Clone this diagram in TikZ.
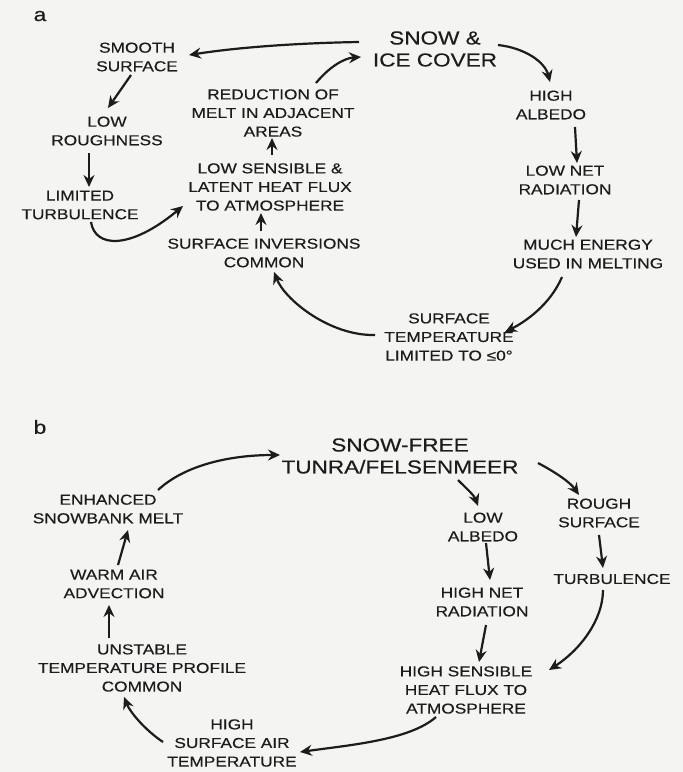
\documentclass[tikz,border=0pt]{standalone}
\usepackage{fontspec}
\setmainfont{Liberation Sans}[FakeStretch=1.2, FakeBold=0.4]
\usepackage{tikz}
\usetikzlibrary{arrows.meta, calc}
\definecolor{paper}{RGB}{244,244,242}
\definecolor{ink}{RGB}{28,28,28}

\begin{document}
\begin{tikzpicture}[x=0.5pt, y=-0.5pt, lbl/.style={text=ink, align=center,
      inner sep=0pt, font=\fontsize{7.2pt}{9.3pt}\selectfont}, big/.style={lbl,
      font=\fontsize{9.4pt}{11pt}\selectfont}, part/.style={text=ink,
      inner sep=0pt, font=\fontsize{9.5pt}{10pt}\selectfont}, flow/.style={ink,
      line width=1.1pt, -{Stealth[length=6pt, width=5.5pt, inset=2pt]}}, ]

    % Paper
    \fill[paper] (0,0) rectangle (683,772);
    \useasboundingbox (0,0) rectangle (683,772);

    % Part a: snow cover
    \node[part] (pa) at (40,16) {a};
    \node[big] (snow) at (435,49) {SNOW \&\\ICE COVER};
    \node[lbl] (smooth) at (137,57) {SMOOTH\\SURFACE};
    \node[lbl] (rough) at (107,131) {LOW\\ROUGHNESS};
    \node[lbl] (limited) at (80,205) {LIMITED\\TURBULENCE};
    \node[lbl] (red) at (273,113) {REDUCTION OF\\MELT IN ADJACENT\\AREAS};
    \node[lbl] (sens) at (270,187) {LOW SENSIBLE \&\\LATENT HEAT FLUX\\TO ATMOSPHERE};
    \node[lbl] (inv) at (264,253) {SURFACE INVERSIONS\\COMMON};
    \node[lbl] (albedo) at (551,105) {HIGH\\ALBEDO};
    \node[lbl] (netrad) at (565,180) {LOW NET\\RADIATION};
    \node[lbl] (energy) at (588,254) {MUCH ENERGY\\USED IN MELTING};
    \node[lbl] (temp) at (449,337) {SURFACE\\TEMPERATURE\\LIMITED TO ≤0°};

    % Part a arrows
    \draw[flow] ($(snow)+(-76,-7)$) .. controls (300,43) and (240,47) ..
    ($(smooth)+(52,-2)$);
    \draw[flow] ($(smooth)+(-6,18)$) -- ($(rough)+(1,-23)$);
    \draw[flow] ($(rough)+(-18,22)$) -- ($(limited)+(9,-18)$);
    \draw[flow] ($(limited)+(11,17)$) .. controls (95,248) and (130,250) ..
    ($(sens)+(-87,19)$);
    \draw[flow] ($(inv)+(-3,-22)$) -- ($(sens)+(-9,26)$);
    \draw[flow] ($(sens)+(2,-32)$) -- ($(red)+(-1,25)$);
    \draw[flow] ($(red)+(43,-30)$) .. controls (330,66) and (345,58) ..
    ($(snow)+(-74,8)$);
    \draw[flow] ($(snow)+(63,-4)$) .. controls (525,48) and (545,62) ..
    ($(albedo)+(-1,-23)$);
    \draw[flow] ($(albedo)+(24,22)$) -- ($(netrad)+(12,-17)$);
    \draw[flow] ($(netrad)+(14,20)$) -- ($(energy)+(-12,-17)$);
    \draw[flow] ($(energy)+(-26,23)$) .. controls (550,305) and (525,322) ..
    ($(temp)+(56,-5)$);
    \draw[flow] ($(temp)+(-74,-2)$) .. controls (330,336) and (285,300) ..
    ($(inv)+(10,19)$);

    % Part b: snow-free ground
    \node[part] (pb) at (40,427) {b};
    \node[big] (free) at (400,456) {SNOW-FREE\\TUNRA/FELSENMEER};
    \node[lbl] (enh) at (108,509) {ENHANCED\\SNOWBANK MELT};
    \node[lbl] (warm) at (114,584) {WARM AIR\\ADVECTION};
    \node[lbl] (unst) at (142,668) {UNSTABLE\\TEMPERATURE PROFILE\\COMMON};
    \node[lbl] (hot) at (232,743) {HIGH\\SURFACE AIR\\TEMPERATURE};
    \node[lbl] (lowalb) at (483,527) {LOW\\ALBEDO};
    \node[lbl] (roughb) at (599,513) {ROUGH\\SURFACE};
    \node[lbl] (turb) at (612,579) {TURBULENCE};
    \node[lbl] (hinet) at (482,602) {HIGH NET\\RADIATION};
    \node[lbl] (hsens) at (466,690) {HIGH SENSIBLE\\HEAT FLUX TO\\ATMOSPHERE};

    % Part b arrows
    \draw[flow] ($(enh)+(50,-19)$) .. controls (185,465) and (230,455) ..
    ($(free)+(-120,-1)$);
    \draw[flow] ($(free)+(58,24)$) .. controls (466,488) and (474,495) ..
    ($(lowalb)+(-5,-21)$);
    \draw[flow] ($(free)+(138,7)$) .. controls (555,472) and (570,482) ..
    ($(roughb)+(-20,-18)$);
    \draw[flow] ($(lowalb)+(3,16)$) -- ($(hinet)+(8,-22)$);
    \draw[flow] ($(roughb)+(0,22)$) -- ($(turb)+(-9,-11)$);
    \draw[flow] ($(hinet)+(4,23)$) -- ($(hsens)+(13,-28)$);
    \draw[flow] ($(turb)+(-9,11)$) .. controls (603,620) and (580,650) ..
    ($(hsens)+(83,-20)$);
    \draw[flow] ($(hsens)+(-30,27)$) .. controls (410,740) and (350,745) ..
    ($(hot)+(68,9)$);
    \draw[flow] ($(hot)+(-69,-1)$) .. controls (145,730) and (130,712) ..
    ($(unst)+(-18,29)$);
    \draw[flow] ($(unst)+(-33,-30)$) -- ($(warm)+(-5,21)$);
    \draw[flow] ($(warm)+(4,-19)$) -- ($(enh)+(20,21)$);

\end{tikzpicture}
\end{document}
